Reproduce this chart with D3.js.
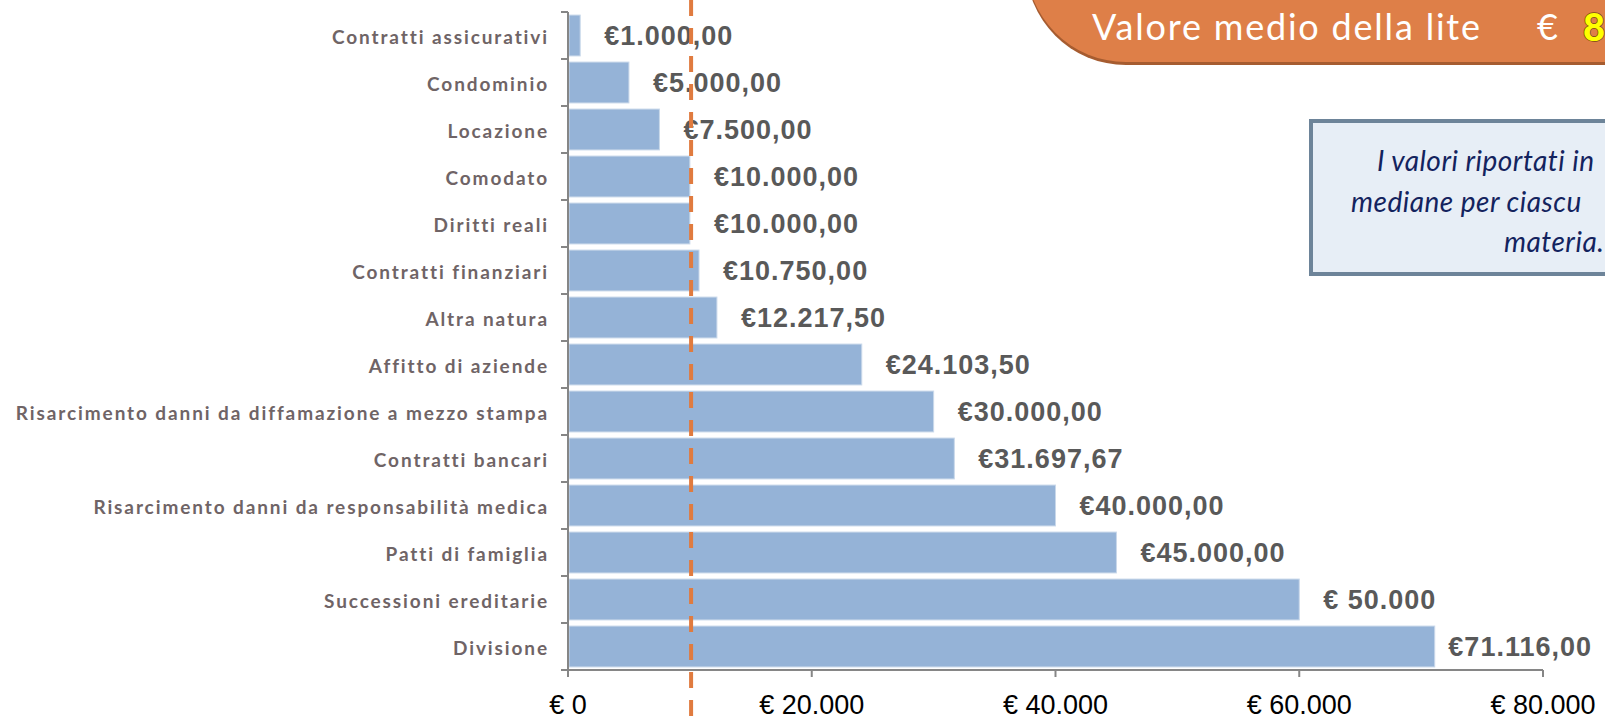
<!DOCTYPE html>
<html>
<head>
<meta charset="utf-8">
<script src="https://cdn.jsdelivr.net/npm/d3@7"></script>
<style>
    html, body { margin: 0; padding: 0; background: #ffffff; overflow: hidden; }
</style>
</head>
<body>
<svg id="plot" width="1605" height="721"></svg>
<script>
// Categories (top to bottom) and the median value of each one
let categories = [
    "Contratti assicurativi",
    "Condominio",
    "Locazione",
    "Comodato",
    "Diritti reali",
    "Contratti finanziari",
    "Altra natura",
    "Affitto di aziende",
    "Risarcimento danni da diffamazione a mezzo stampa",
    "Contratti bancari",
    "Risarcimento danni da responsabilità medica",
    "Patti di famiglia",
    "Successioni ereditarie",
    "Divisione"
];
let values = [1000, 5000, 7500, 10000, 10000, 10750, 12217.5, 24103.5, 30000, 31697.67, 40000, 45000, 60000, 71116];
let valueLabels = [
    "€1.000,00", "€5.000,00", "€7.500,00", "€10.000,00", "€10.000,00", "€10.750,00", "€12.217,50",
    "€24.103,50", "€30.000,00", "€31.697,67", "€40.000,00", "€45.000,00", "€ 50.000", "€71.116,00"
];
let xTicks = [0, 20000, 40000, 60000, 80000];
let xTickLabels = ["€ 0", "€ 20.000", "€ 40.000", "€ 60.000", "€ 80.000"];
let averageValue = 10100;

let dataset = categories.map((c, i) => [c, values[i], valueLabels[i]]);

function renderPlot() {
    const svg = d3.select("#plot");

    // Scales
    let padding = 0.13;
    let scaleX = d3.scaleLinear().domain([0, 80000]).range([568, 1543]);
    let scaleY = d3.scaleBand()
        .domain(categories)
        .range([12, 670])
        .paddingInner(padding)
        .paddingOuter(padding / 2);
    let step = scaleY.step();

    // Bars
    svg.append("g")
        .selectAll("rect")
        .data(dataset)
        .enter()
        .append("rect")
        .attr("x", scaleX(0) + 1)
        .attr("y", (d) => scaleY(d[0]))
        .attr("width", (d) => scaleX(d[1]) - scaleX(0) - 1)
        .attr("height", scaleY.bandwidth())
        .attr("fill", "#95b3d7")
        .attr("stroke", "#c9d8ea")
        .attr("stroke-width", 1);

    // Value labels next to bars (pushed back inside the plot if they overflow)
    svg.append("g")
        .selectAll("text")
        .data(dataset)
        .enter()
        .append("text")
        .attr("x", (d) => scaleX(d[1]) + 24)
        .attr("y", (d) => scaleY(d[0]) + scaleY.bandwidth() / 2 + 9)
        .attr("font-family", "'Liberation Sans', Arial, sans-serif")
        .attr("font-weight", "bold")
        .attr("font-size", "27px")
        .attr("letter-spacing", "1px")
        .attr("fill", "#595959")
        .text((d) => d[2])
        .attr("x", function (d) {
            let w = this.getComputedTextLength();
            return Math.min(scaleX(d[1]) + 24, 1592 - w);
        });

    // Y axis: line, boundary ticks and category labels
    let yAxis = svg.append("g");
    yAxis.append("line")
        .attr("x1", scaleX(0)).attr("x2", scaleX(0))
        .attr("y1", 12).attr("y2", 670)
        .attr("stroke", "#868686").attr("stroke-width", 2);
    let boundaries = categories.map((c) => scaleY(c) - (step * padding) / 2).concat([670]);
    yAxis.selectAll("line.tick")
        .data(boundaries)
        .enter()
        .append("line")
        .attr("class", "tick")
        .attr("x1", scaleX(0) - 7).attr("x2", scaleX(0))
        .attr("y1", (d) => d).attr("y2", (d) => d)
        .attr("stroke", "#868686").attr("stroke-width", 2);
    yAxis.selectAll("text")
        .data(categories)
        .enter()
        .append("text")
        .attr("x", 549)
        .attr("y", (d) => scaleY(d) + scaleY.bandwidth() / 2 + 8)
        .attr("text-anchor", "end")
        .attr("font-family", "Lato, sans-serif")
        .attr("font-weight", "bold")
        .attr("font-size", "19px")
        .attr("letter-spacing", "1.9px")
        .attr("fill", "#6f6466")
        .text((d) => d);

    // X axis
    let xAxis = svg.append("g");
    xAxis.append("line")
        .attr("x1", scaleX(0) - 7).attr("x2", scaleX(80000))
        .attr("y1", 670).attr("y2", 670)
        .attr("stroke", "#868686").attr("stroke-width", 2);
    xAxis.selectAll("line.tick")
        .data(xTicks)
        .enter()
        .append("line")
        .attr("class", "tick")
        .attr("x1", (d) => scaleX(d)).attr("x2", (d) => scaleX(d))
        .attr("y1", 670).attr("y2", 677)
        .attr("stroke", "#868686").attr("stroke-width", 2);
    xAxis.selectAll("text")
        .data(xTicks)
        .enter()
        .append("text")
        .attr("x", (d) => scaleX(d))
        .attr("y", 714)
        .attr("text-anchor", "middle")
        .attr("font-family", "'Liberation Sans', Arial, sans-serif")
        .attr("font-size", "27px")
        .attr("fill", "#000000")
        .text((d, i) => xTickLabels[i]);

    // Dashed orange line for the average value
    svg.append("line")
        .attr("x1", scaleX(averageValue)).attr("x2", scaleX(averageValue))
        .attr("y1", 0).attr("y2", 721)
        .attr("stroke", "#e07b3f")
        .attr("stroke-width", 4)
        .attr("stroke-dasharray", "16,12");

    // Header box in the top right corner
    let L = 1026, B = 62, R = 1620, r = 100;
    let headerPath = "M" + L + "," + -60 +
        " L" + L + "," + (B - r) +
        " A" + r + "," + r + " 0 0 0 " + (L + r) + "," + B +
        " L" + R + "," + B + " L" + R + "," + -60 + " Z";
    svg.append("path")
        .attr("d", headerPath)
        .attr("transform", "translate(0,3)")
        .attr("fill", "#a65c30");
    svg.append("path")
        .attr("d", headerPath)
        .attr("fill", "#de7f48");
    svg.append("text")
        .attr("x", 1092).attr("y", 40)
        .attr("font-family", "Lato, sans-serif")
        .attr("font-size", "36px")
        .attr("letter-spacing", "1.8px")
        .attr("fill", "#ffffff")
        .text("Valore medio della lite");
    svg.append("text")
        .attr("x", 1537).attr("y", 40)
        .attr("font-family", "Lato, sans-serif")
        .attr("font-size", "36px")
        .attr("fill", "#ffffff")
        .text("€");
    svg.append("text")
        .attr("x", 1583).attr("y", 41)
        .attr("font-family", "Lato, sans-serif")
        .attr("font-weight", "900")
        .attr("font-size", "38px")
        .attr("fill", "#ffff00")
        .attr("stroke", "#7a4a10")
        .attr("stroke-width", 1.5)
        .attr("paint-order", "stroke")
        .text("8");

    // Note box
    svg.append("rect")
        .attr("x", 1311).attr("y", 121)
        .attr("width", 320).attr("height", 153)
        .attr("fill", "#e7eef6")
        .attr("stroke", "#6d8499")
        .attr("stroke-width", 4);
    let noteLines = [["I valori riportati in", 1377, 171], ["mediane per ciascu", 1351, 212], ["materia.", 1504, 252]];
    svg.append("g")
        .selectAll("text")
        .data(noteLines)
        .enter()
        .append("text")
        .attr("x", (d) => d[1]).attr("y", (d) => d[2])
        .attr("font-family", "Lato, sans-serif")
        .attr("font-style", "italic")
        .attr("font-size", "28px")
        .attr("letter-spacing", "0.5px")
        .attr("fill", "#13235e")
        .text((d) => d[0]);
}

renderPlot();
</script>
</body>
</html>
